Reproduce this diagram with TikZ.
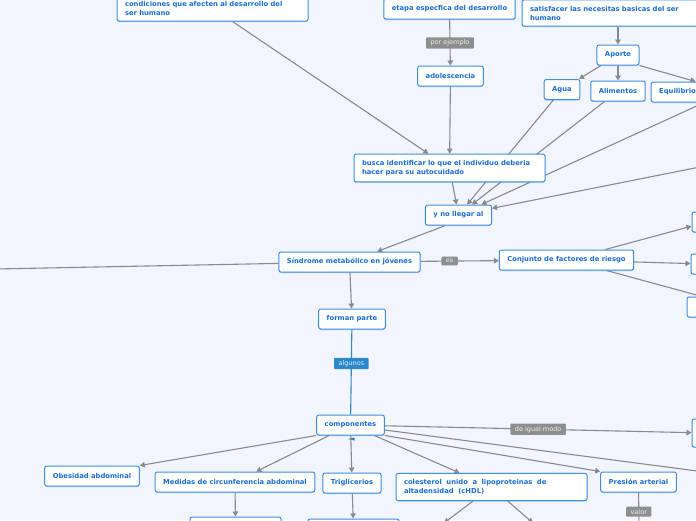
\documentclass[tikz,border=0pt]{standalone}
\usepackage{fontspec}
\setmainfont{DejaVu Sans}
\usetikzlibrary{arrows.meta,shadows}
\definecolor{mapbg}{HTML}{F2F5FE}
\definecolor{topicline}{HTML}{3C8DE8}
\definecolor{topictext}{HTML}{1A6ED8}
\definecolor{linkgray}{HTML}{8A8A8E}
\definecolor{labelgray}{HTML}{8E8E8E}
\definecolor{labelblue}{HTML}{2B88CA}
\pgfdeclarelayer{bg}
\pgfdeclarelayer{edges}
\pgfsetlayers{bg,edges,main}

\begin{document}
\begin{tikzpicture}[x=1pt,y=-1pt]
    \tikzstyle{topic}=[draw=topicline, line width=1pt, fill=white, rounded corners=2pt, text=topictext, font=\bfseries\fontsize{6.8}{9}\selectfont, inner xsep=8pt, inner ysep=6pt, minimum height=20pt, drop shadow={shadow xshift=0pt, shadow yshift=-1pt, fill=topicline, opacity=0.35}]
    \tikzstyle{longtopic}=[topic, text width=175pt, align=left]
    \tikzstyle{link}=[draw=linkgray, line width=1.1pt, -{Triangle[length=5pt,width=5.5pt]}]
    \tikzstyle{plainlink}=[draw=linkgray, line width=1.1pt]
    \tikzstyle{linklabel}=[fill=labelgray, text=white!85!labelgray, font=\fontsize{6.5}{7}\selectfont, inner xsep=4.5pt, inner ysep=2.5pt, rounded corners=1pt]
    \begin{pgfonlayer}{bg}
    \fill [mapbg] (0,0) rectangle (696,520);
    \end{pgfonlayer}
    \useasboundingbox (0,0) rectangle (696,520);
    \clip (0,0) rectangle (696,520);
    \node [longtopic] (condiciones) at (212.5,8) {condiciones que afecten al desarrollo del\\ ser humano};
    \node [topic] (etapa) at (449.5,9) {etapa especfica del desarrollo};
    \node [topic, text width=183pt, align=left] (satisfacer) at (621.5,13) {satisfacer las necesitas basicas del ser\\ humano};
    \node [topic] (adolescencia) at (450.5,76) {adolescencia};
    \node [topic] (aporte) at (618,55) {Aporte};
    \node [topic] (agua) at (562,89.5) {Agua};
    \node [topic] (alimentos) at (618,91) {Alimentos};
    \node [topic] (equilibrio) at (677.5,92) {Equilibrio};
    \node [longtopic] (busca) at (449.5,168) {busca identificar lo que el individuo deberia\\ hacer para su autocuidado};
    \node [topic] (ynollegar) at (458.5,215) {y no llegar al};
    \node [topic] (sindrome) at (349.5,262) {Síndrome metabólico en jóvenes};
    \node [topic] (conjunto) at (566.5,260) {Conjunto de factores de riesgo};
    \node [topic] (forman) at (352,319) {forman parte};
    \node [topic] (componentes) at (350.5,425) {componentes};
    \node [topic, minimum width=30pt] (riesgoa) at (707,222) {};
    \node [topic, minimum width=30pt] (riesgob) at (706,264) {};
    \node [topic, minimum width=30pt] (riesgoc) at (702,307) {};
    \node [topic, minimum width=30pt, minimum height=28pt] (otro) at (707,433) {};
    \node [topic] (obesidad) at (92,476) {Obesidad abdominal};
    \node [topic] (medidas) at (235,482) {Medidas de circunferencia abdominal};
    \node [topic] (trigli) at (352,483) {Triglicerios};
    \node [longtopic] (colesterol) at (491.5,487) {colesterol\ \ unido\ \ a\ \ lipoproteinas\ \ de\\ altadensidad\ \ (cHDL)};
    \node [topic] (presion) at (638.5,482) {Presión arterial};
    \node [topic, minimum width=91pt] (medidasb) at (235.5,527) {};
    \node [topic, minimum width=91pt] (triglib) at (353.5,529) {};
    \coordinate (farleft) at (-5,269);
    \coordinate (farright) at (700,167);
    \coordinate (farcomp) at (720,474);
    \coordinate (hdla) at (444,523);
    \coordinate (hdlb) at (533,523);
    \coordinate (valorend) at (639,535);
    \begin{pgfonlayer}{edges}
    \draw [link] (condiciones) -- (busca);
    \draw [link] (etapa) -- (adolescencia) node [linklabel, pos=0.51] {por ejemplo};
    \draw [link] (adolescencia) -- (busca);
    \draw [link] (satisfacer.south -| aporte) -- (aporte);
    \draw [link] (aporte) -- (agua);
    \draw [link] (aporte) -- (alimentos);
    \draw [link] (aporte.south east) -- ([xshift=18pt]equilibrio.north);
    \draw [link] (busca) -- (ynollegar);
    \draw [link] (agua) -- (ynollegar);
    \draw [link] (alimentos) -- (ynollegar);
    \draw [link] (equilibrio.south east) -- (ynollegar);
    \draw [link] (farright) -- (ynollegar);
    \draw [link] ([xshift=-13pt]ynollegar.south) -- (sindrome);
    \draw [plainlink] (farleft) -- (sindrome);
    \draw [link] (sindrome) -- (conjunto) node [linklabel, pos=0.37] {es};
    \draw [link] (conjunto) -- (riesgoa);
    \draw [link] (conjunto) -- (riesgob);
    \draw [link] ([xshift=40pt]conjunto.south) -- (riesgoc.north);
    \draw [link] (sindrome) -- (forman);
    \draw [draw=labelblue, line width=1.1pt] (forman) -- (componentes) node [linklabel, fill=labelblue, text=white!85!labelblue, pos=0.4] {algunos};
    \fill [labelblue] ([xshift=-3pt,yshift=-3.5pt]componentes.south) -- ++(7,-1.5) -- ++(0,3) -- cycle;
    \draw [link] (componentes) -- (otro) node [linklabel, pos=0.5] {de igual modo};
    \draw [link] (componentes.south west) -- (obesidad.north east);
    \draw [link] (componentes) -- (medidas);
    \draw [link] (componentes) -- (trigli);
    \draw [link] (componentes) -- (colesterol);
    \draw [link] (componentes.south east) -- (presion.north west);
    \draw [plainlink] ([yshift=-5pt]componentes.east) -- (farcomp);
    \draw [link] (medidas) -- (medidasb);
    \draw [link] (trigli) -- (triglib);
    \draw [link] (colesterol) -- (hdla);
    \draw [link] (colesterol) -- (hdlb);
    \draw [plainlink] (presion) -- (valorend) node [linklabel, pos=0.45] {valor};
    \end{pgfonlayer}
\end{tikzpicture}
\end{document}
